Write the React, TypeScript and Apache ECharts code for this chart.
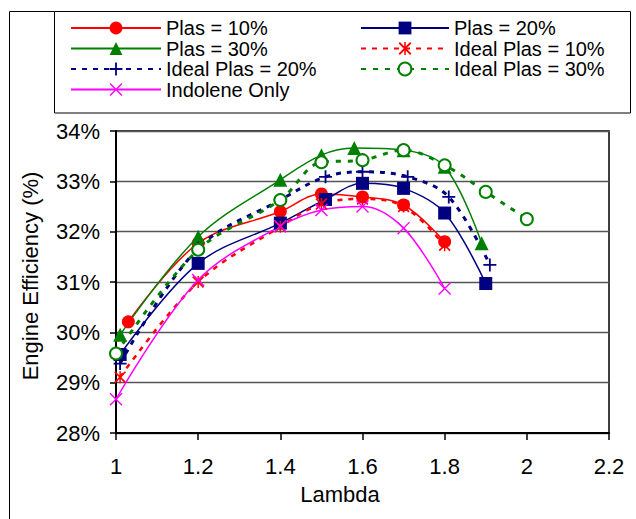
import React, { useEffect, useRef } from 'react';
import * as echarts from 'echarts';

// ---- data ----
const lambdaPlas10 = [1.03, 1.2, 1.4, 1.5, 1.6, 1.7, 1.8];
const effPlas10 = [30.21, 31.77, 32.4, 32.75, 32.69, 32.53, 31.8];

const lambdaPlas20 = [1.01, 1.2, 1.4, 1.51, 1.6, 1.7, 1.8, 1.9];
const effPlas20 = [29.56, 31.37, 32.17, 32.64, 32.96, 32.86, 32.37, 30.97];

const lambdaPlas30 = [1.01, 1.2, 1.4, 1.5, 1.58, 1.7, 1.8, 1.89];
const effPlas30 = [29.95, 31.9, 33.03, 33.52, 33.66, 33.62, 33.29, 31.77];

const lambdaIdeal10 = [1.01, 1.2, 1.4, 1.5, 1.6, 1.7, 1.8];
const effIdeal10 = [29.11, 31.0, 32.1, 32.55, 32.65, 32.5, 31.73];

const lambdaIdeal20 = [1.01, 1.2, 1.4, 1.51, 1.6, 1.71, 1.81, 1.91];
const effIdeal20 = [29.38, 31.67, 32.63, 33.09, 33.19, 33.09, 32.69, 31.34];

const lambdaIdeal30 = [1.0, 1.2, 1.4, 1.5, 1.6, 1.7, 1.8, 1.9, 2.0];
const effIdeal30 = [29.58, 31.64, 32.63, 33.38, 33.42, 33.62, 33.32, 32.79, 32.25];

const lambdaIndolene = [1.0, 1.2, 1.4, 1.5, 1.6, 1.7, 1.8];
const effIndolene = [28.67, 31.04, 32.11, 32.43, 32.5, 32.07, 30.87];

const legendLeftNames = ['Plas = 10%', 'Plas = 30%', 'Ideal Plas = 20%', 'Indolene Only'];
const legendRightNames = ['Plas = 20%', 'Ideal Plas = 10%', 'Ideal Plas = 30%'];

const xAxisTitle = 'Lambda';
const yAxisTitle = 'Engine Efficiency (%)';

// ---- styling ----
const FONT = '"Liberation Sans", Arial, Helvetica, sans-serif';
const RED = '#FF0000';
const NAVY = '#000080';
const GREEN = '#008000';
const MAGENTA = '#FF00FF';

const PLUS = 'path://M8.6,0H11.4V8.6H20V11.4H11.4V20H8.6V11.4H0V8.6H8.6Z';
const CROSS = 'path://M0,1.5L1.5,0L20,18.5L18.5,20Z M18.5,0L20,1.5L1.5,20L0,18.5Z';
const STAR = 'path://M0,2L2,0L20,18L18,20Z M18,0L20,2L2,20L0,18Z M8.8,0H11.2V20H8.8Z';

const zip = (xs: number[], ys: number[]) => xs.map((x, i) => [x, ys[i]]);

function makeSeries(
  name: string,
  xs: number[],
  ys: number[],
  color: string,
  symbol: string,
  symbolSize: number,
  lineStyle: any,
  itemStyle?: any
) {
  return {
    name,
    type: 'line',
    data: zip(xs, ys),
    smooth: 0.35,
    symbol,
    symbolSize,
    showSymbol: true,
    color,
    lineStyle: { color, ...lineStyle },
    itemStyle: { color, ...(itemStyle || {}) },
    emphasis: { disabled: true },
  };
}

export default function App() {
  const ref = useRef<HTMLDivElement>(null);

  useEffect(() => {
    if (!ref.current) return;
    const chart = echarts.init(ref.current, undefined, { renderer: 'svg' });

    const series = [
      makeSeries('Plas = 10%', lambdaPlas10, effPlas10, RED, 'circle', 13, { width: 1.5, type: 'solid' }),
      makeSeries('Plas = 20%', lambdaPlas20, effPlas20, NAVY, 'rect', 13, { width: 1.5, type: 'solid' }),
      makeSeries('Plas = 30%', lambdaPlas30, effPlas30, GREEN, 'triangle', 14, { width: 1.5, type: 'solid' }),
      makeSeries('Ideal Plas = 10%', lambdaIdeal10, effIdeal10, RED, STAR, 12, { width: 2.5, type: [5, 6] }),
      makeSeries('Ideal Plas = 20%', lambdaIdeal20, effIdeal20, NAVY, PLUS, 13, { width: 3, type: [5, 6] }),
      makeSeries('Ideal Plas = 30%', lambdaIdeal30, effIdeal30, GREEN, 'emptyCircle', 12, { width: 3, type: [5, 7] }, { borderWidth: 1.6 }),
      makeSeries('Indolene Only', lambdaIndolene, effIndolene, MAGENTA, CROSS, 13, { width: 1.5, type: 'solid' }),
    ];

    const legendCommon = {
      orient: 'vertical',
      padding: 0,
      itemGap: 0.5,
      itemHeight: 16,
      selectedMode: false,
      textStyle: { fontFamily: FONT, fontSize: 20, color: '#000', lineHeight: 20 },
    };

    const option: any = {
      animation: false,
      backgroundColor: '#fff',
      grid: {
        left: 116,
        right: 27,
        top: 131,
        bottom: 86,
        show: true,
        borderColor: '#000',
        borderWidth: 1.5,
        backgroundColor: 'transparent',
      },
      legend: [
        { ...legendCommon, data: legendLeftNames, left: 70, top: 18, itemWidth: 90 },
        { ...legendCommon, data: legendRightNames, left: 360, top: 18, itemWidth: 88 },
      ],
      xAxis: {
        type: 'value',
        min: 1,
        max: 2.2,
        interval: 0.2,
        axisLine: { show: true, onZero: false, lineStyle: { color: '#000', width: 2 } },
        axisTick: { show: true, inside: false, length: 7, lineStyle: { color: '#000', width: 1.5 } },
        axisLabel: {
          margin: 22,
          fontFamily: FONT,
          fontSize: 22,
          color: '#000',
          formatter: (v: number) => String(+v.toFixed(1)),
        },
        splitLine: { show: false },
      },
      yAxis: {
        type: 'value',
        min: 28,
        max: 34,
        interval: 1,
        axisLine: { show: true, onZero: false, lineStyle: { color: '#000', width: 2 } },
        axisTick: { show: true, inside: false, length: 6, lineStyle: { color: '#000', width: 1.5 } },
        axisLabel: {
          margin: 16,
          fontFamily: FONT,
          fontSize: 22,
          color: '#000',
          formatter: (v: number) => `${Math.round(v)}%`,
        },
        splitLine: { show: true, lineStyle: { color: '#555', width: 1.3 } },
      },
      graphic: [
        {
          type: 'polyline',
          shape: { points: [[9.5, 519], [9.5, 11.5], [54.5, 11.5]] },
          style: { stroke: '#000', lineWidth: 1, fill: 'none' },
          silent: true,
        },
        {
          type: 'rect',
          shape: { x: 54.5, y: 11.5, width: 576, height: 101.5 },
          style: { stroke: '#000', lineWidth: 1, fill: 'none' },
          silent: true,
        },
        {
          type: 'text',
          x: 30,
          y: 276,
          rotation: Math.PI / 2,
          style: {
            text: yAxisTitle,
            fill: '#000',
            font: `22px ${FONT}`,
            align: 'center',
            verticalAlign: 'middle',
          },
          silent: true,
        },
        {
          type: 'text',
          x: 340,
          y: 494,
          style: {
            text: xAxisTitle,
            fill: '#000',
            font: `22px ${FONT}`,
            align: 'center',
            verticalAlign: 'middle',
          },
          silent: true,
        },
      ],
      series,
    };

    chart.setOption(option);
    return () => chart.dispose();
  }, []);

  return (
    <div
      ref={ref}
      style={{ position: 'absolute', left: 0, top: 0, width: 636, height: 519, background: '#fff' }}
    />
  );
}
